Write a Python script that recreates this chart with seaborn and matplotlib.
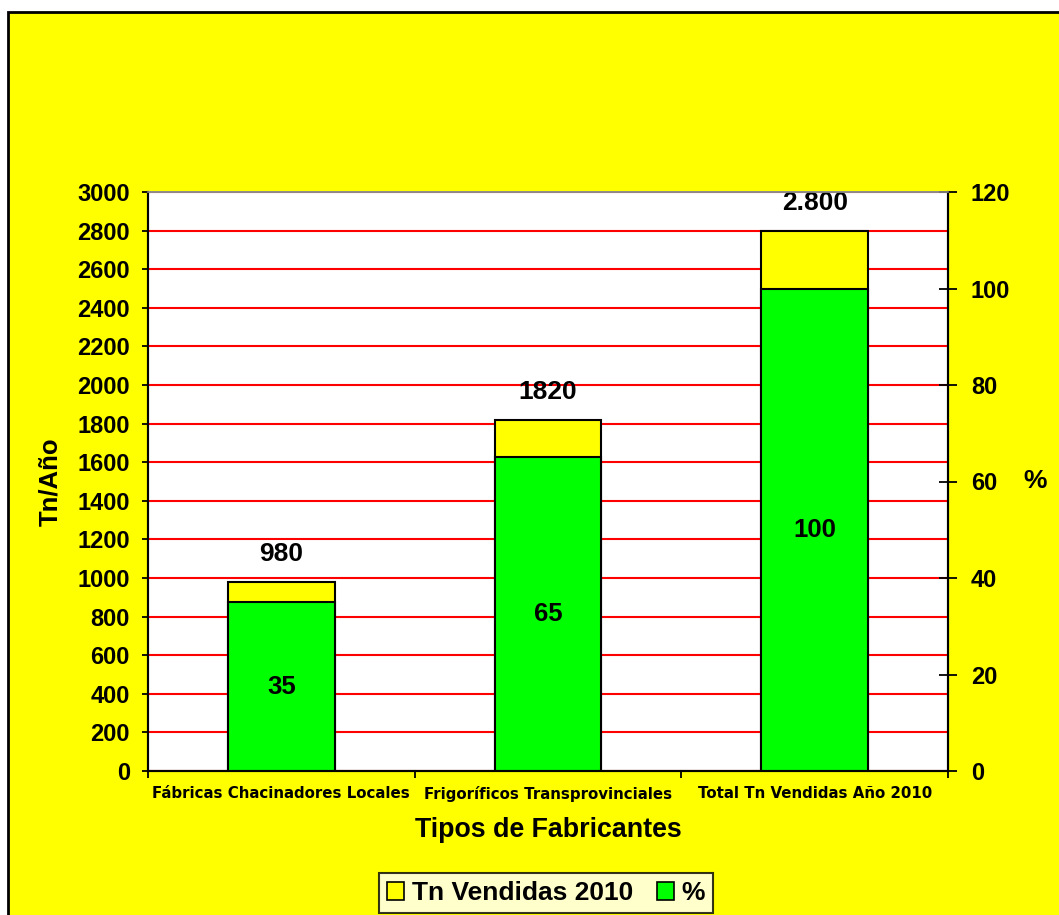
import matplotlib
matplotlib.use("Agg")
import matplotlib.pyplot as plt
from matplotlib.patches import Rectangle, Patch
from matplotlib.ticker import FixedLocator, MultipleLocator
import pandas as pd
import seaborn as sns

# Data
categories = ["Fábricas Chacinadores Locales", "Frigoríficos Transprovinciales",
              "Total Tn Vendidas Año 2010"]
tn_vendidas = [980, 1820, 2800]
tn_labels = ["980", "1820", "2.800"]
porcentaje = [35, 65, 100]

sns.set_theme(style="white")
plt.rcParams["font.family"] = ["Liberation Sans", "DejaVu Sans"]
plt.rcParams["font.weight"] = "bold"
for key in ("text.color", "axes.labelcolor", "xtick.color", "ytick.color"):
    plt.rcParams[key] = "black"

YELLOW = "#FFFF00"
GREEN = "#00FF00"
RED = "#FF0000"

W, H = 1059, 915
fig = plt.figure(figsize=(W / 100, H / 100), dpi=100, facecolor="white")

# yellow chart area with black border
fig.add_artist(Rectangle((8 / W, -0.05), 1.2, (H - 12) / H + 0.05,
                         transform=fig.transFigure, facecolor=YELLOW,
                         edgecolor="black", linewidth=2, zorder=0))

left, right, top, bottom = 148, 948, 192, 771
ax = fig.add_axes([left / W, (H - bottom) / H, (right - left) / W, (bottom - top) / H])
ax.set_facecolor("white")
ax.set_axisbelow(True)

df = pd.DataFrame({"categoria": categories, "tn": tn_vendidas, "pct": porcentaje})

sns.barplot(data=df, x="categoria", y="tn", color=YELLOW, saturation=1,
            width=0.4, edgecolor="black", linewidth=1.5, ax=ax)
ax.set_ylim(0, 3000)
ax.set_xlim(-0.5, 2.5)
ax.yaxis.set_major_locator(MultipleLocator(200))
ax.grid(axis="y", color=RED, linewidth=1.5)
ax.grid(axis="x", visible=False)

ax2 = ax.twinx()
sns.barplot(data=df, x="categoria", y="pct", color=GREEN, saturation=1,
            width=0.4, edgecolor="black", linewidth=1.5, ax=ax2)
ax2.set_ylim(0, 120)
ax2.set_xlim(-0.5, 2.5)
ax2.yaxis.set_major_locator(MultipleLocator(20))
ax2.grid(False)

# value labels
for i, (v, lab) in enumerate(zip(tn_vendidas, tn_labels)):
    ax.annotate(lab, (i, v), xytext=(0, 20), textcoords="offset points",
                ha="center", va="center", fontsize=19, fontweight="bold")
for i, p in enumerate(porcentaje):
    ax2.text(i, p / 2, str(p), ha="center", va="center",
             fontsize=18.5, fontweight="bold")

# spines
for a in (ax, ax2):
    for s in a.spines.values():
        s.set_linewidth(1.5)
        s.set_color("black")
    a.spines["top"].set_color("#8c8c8c")
    a.spines["top"].set_linewidth(1.2)

# y ticks
ax.tick_params(axis="y", which="major", direction="out", length=4.5, width=1.3,
               color="black", pad=8.5, labelsize=17, left=True)
ax2.tick_params(axis="y", which="major", direction="inout", length=13, width=1.3,
                color="black", pad=10, labelsize=17, right=True)
for lab in ax.get_yticklabels() + ax2.get_yticklabels():
    lab.set_fontweight("bold")

# x ticks: marks at category boundaries, labels at centres
for a in (ax, ax2):
    a.xaxis.set_major_locator(FixedLocator([-0.5, 0.5, 1.5, 2.5]))
    a.xaxis.set_minor_locator(FixedLocator([0, 1, 2]))
ax.set_xticklabels([])
ax.set_xticklabels(categories, minor=True, fontsize=10.8, fontweight="bold",
                   family="DejaVu Sans")
ax.tick_params(axis="x", which="major", direction="out", length=5, width=1.3,
               color="black", bottom=True)
ax.tick_params(axis="x", which="minor", length=0, pad=10.5, bottom=True)
ax2.tick_params(axis="x", which="both", bottom=False, labelbottom=False)

# axis titles
ax.set_xlabel("Tipos de Fabricantes", fontsize=19.3, fontweight="bold", va="center")
ax.xaxis.set_label_coords(0.5, -0.102)
ax.set_ylabel("Tn/Año", fontsize=18.5, fontweight="bold", va="center")
ax.yaxis.set_label_coords(-0.1225, 0.5)
ax2.set_ylabel("%", fontsize=19, fontweight="bold", rotation=0,
               va="center", ha="center")
ax2.yaxis.set_label_coords(1.109, 0.5)

# legend
handles = [Patch(facecolor=YELLOW, edgecolor="black", linewidth=1.2),
           Patch(facecolor=GREEN, edgecolor="black", linewidth=1.2)]
leg = fig.legend(handles, ["Tn Vendidas 2010", "%"], loc="center",
                 bbox_to_anchor=(546 / W, 1 - 893 / H), ncol=2,
                 fancybox=False, frameon=True, edgecolor="black",
                 prop={"size": 19, "weight": "bold"},
                 handlelength=0.65, handleheight=0.65, handletextpad=0.3,
                 columnspacing=0.9, borderpad=0.3, borderaxespad=0)
leg.get_frame().set_linewidth(1.5)
leg.get_frame().set_facecolor("white")

fig.savefig("out.png", dpi=100, facecolor="white")
